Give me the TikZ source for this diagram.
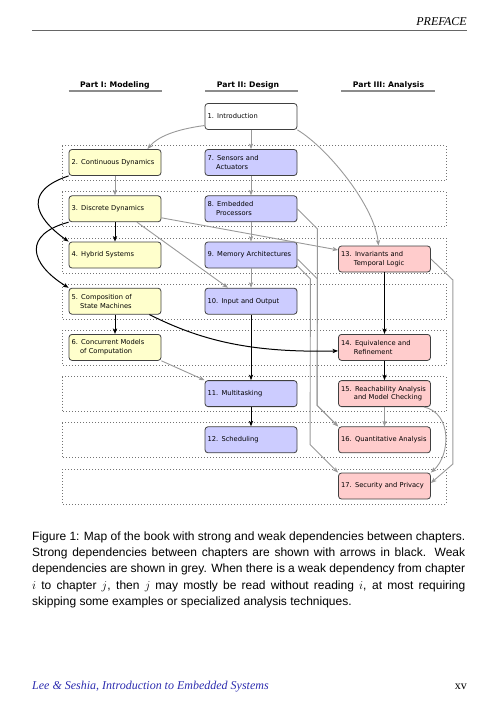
\documentclass[tikz,border=0pt]{standalone}
\usepackage{fontspec}
\usepackage{tikz}
\usetikzlibrary{arrows.meta}
\newfontfamily\diagfont{DejaVu Sans}
\newfontfamily\capfont{Liberation Sans}
\newfontfamily\pagefont{Liberation Serif}
\definecolor{modelfill}{RGB}{255,255,204}
\definecolor{designfill}{RGB}{204,204,255}
\definecolor{analysisfill}{RGB}{255,204,204}
\definecolor{footblue}{RGB}{45,45,175}
\tikzstyle{chap}=[rectangle, rounded corners=3pt, draw=black!75, line width=0.8pt, minimum width=92pt, minimum height=26pt, text width=87pt, inner xsep=2.5pt, align=left, font=\diagfont\fontsize{6.7}{8.7}\selectfont, execute at begin node=\hyphenpenalty10000\relax]
\tikzstyle{model}=[chap, fill=modelfill]
\tikzstyle{design}=[chap, fill=designfill]
\tikzstyle{analysis}=[chap, fill=analysisfill]
\tikzstyle{band}=[draw=black!55, line width=0.8pt, dash pattern=on 1pt off 2pt]
\tikzstyle{weakdep}=[->, draw=black!40, line width=0.9pt]
\tikzstyle{strongdep}=[->, draw=black, line width=1pt]
\tikzstyle{parthead}=[anchor=base west, inner sep=0pt, font=\diagfont\bfseries\fontsize{7.7}{9}\selectfont]
\tikzstyle{captext}=[anchor=base west, inner sep=0pt, font=\capfont\fontsize{12}{16}\selectfont]
\newcommand{\hang}[1]{\hphantom{#1\ }}

\begin{document}
\begin{tikzpicture}[x=1pt, y=-1pt, >={Stealth[length=5.5pt,width=4.2pt,inset=1.3pt]}]
\useasboundingbox (0,0) rectangle (499,706);
% running head
\node[anchor=base east, inner sep=0pt, font=\pagefont\itshape\fontsize{12}{14}\selectfont] (preface) at (467,26) {PREFACE};
\draw[black!60, line width=0.5pt] (32,30) -- (467,30);

% part headings
\node[parthead] (part1) at (80,87.5) {Part I: Modeling};
\node[parthead] (part2) at (216.7,87.5) {Part II: Design};
\node[parthead] (part3) at (352.7,87.5) {Part III: Analysis};
\draw[black!45, line width=1.5pt] (68.5,91) -- (162,91);
\draw[black!45, line width=1.5pt] (205,91) -- (298,91);
\draw[black!45, line width=1.5pt] (341,91) -- (435,91);

% dotted rows
\foreach \r in {162.5,208.8,255,301.2,347.4,393.6,439.8,486}
  \draw[band] (62,\r-17) rectangle (446,\r+18);

% chapters
\node[chap, fill=white] (c1) at (251,116.5) {1. Introduction};
\node[model] (c2) at (115,162.5) {2. Continuous Dynamics};
\node[model] (c3) at (115,208.8) {3. Discrete Dynamics};
\node[model] (c4) at (115,255) {4. Hybrid Systems};
\node[model] (c5) at (115,301.2) {5. Composition of\\\hang{5.}State Machines};
\node[model] (c6) at (115,347.4) {6. Concurrent Models\\\hang{6.}of Computation};
\node[design] (c7) at (251,162.5) {7. Sensors and\\\hang{7.}Actuators};
\node[design] (c8) at (251,208.8) {8. Embedded\\\hang{8.}Processors};
\node[design] (c9) at (251,255) {9. Memory Architectures};
\node[design] (c10) at (251,301.2) {10. Input and Output};
\node[design] (c11) at (251,393.6) {11. Multitasking};
\node[design] (c12) at (251,439.8) {12. Scheduling};
\node[analysis] (c13) at (384.5,259) {13. Invariants and\\\hang{13.}Temporal Logic};
\node[analysis] (c14) at (384.5,347.4) {14. Equivalence and\\\hang{14.}Refinement};
\node[analysis] (c15) at (384.5,393.6) {15. Reachability Analysis\\\hang{15.}and Model Checking};
\node[analysis] (c16) at (384.5,439.8) {16. Quantitative Analysis};
\node[analysis] (c17) at (384.5,486) {17. Security and Privacy};

% weak dependencies
\draw[weakdep] ([yshift=-9pt]c1.west) .. controls +(-30,4) and +(10,-12) .. ([xshift=-14pt]c2.north east);
\draw[weakdep] (c1.south) -- (c7.north);
\draw[weakdep] (c1.south east) .. controls +(30,18) and +(-4,-40) .. ([xshift=-6pt]c13.north);
\draw[weakdep] (c2.south) -- (c3.north);
\draw[weakdep] (c7.south) -- (c8.north);
\draw[weakdep] (c8.south) -- (c9.north);
\draw[weakdep] (c9.south) -- (c10.north);
\draw[weakdep] ([yshift=-9pt]c3.east) -- ([yshift=9pt]c13.west);
\draw[weakdep] ([xshift=22pt]c3.south) -- ([xshift=-23pt]c10.north);
\draw[weakdep] (c6.south east) -- (c11.north west);
\draw[weakdep] (c8.east) -- ++(20,20) -- ([xshift=-21pt,yshift=21pt]c16.north west) -- (c16.north west);
\draw[weakdep] ([yshift=-4pt]c9.east) -- ++(20,20) -- ([xshift=-21pt,yshift=21pt]c16.north west) -- (c16.north west);
\draw[weakdep] ([yshift=-11pt]c9.east) -- ++(13,13) -- ([xshift=-28pt,yshift=28pt]c17.north west) -- (c17.north west);
\draw[weakdep] (c13.east) -- ++(22,21) -- ([xshift=22pt,yshift=22pt]c17.east) -- ([yshift=3pt]c17.east);
\draw[weakdep] (c15.south) -- (c16.north);
\draw[weakdep] ([xshift=-7pt]c15.south east) .. controls +(28,6) and +(20,-18) .. (c17.north east);

% strong dependencies
\draw[strongdep] (c3.south) -- (c4.north);
\draw[strongdep] (c5.south) -- (c6.north);
\draw[strongdep] (c10.south) -- (c11.north);
\draw[strongdep] (c11.south) -- (c12.north);
\draw[strongdep] (c13.south) -- (c14.north);
\draw[strongdep] (c14.south) -- (c15.north);
\draw[strongdep] (c2.south west) .. controls +(-45,15) and +(-35,-25) .. (c4.north west);
\draw[strongdep] (c3.south west) .. controls +(-45,12) and +(-40,-25) .. (c5.north west);
\draw[strongdep] ([xshift=-12pt]c5.south east) .. controls +(50,25) and +(-90,2) .. ([yshift=-3.5pt]c14.west);

% caption
\node[captext] (cap1) at (32,540.7) {\makebox[433pt][s]{Figure 1: Map of the book with strong and weak dependencies between chapters.}};
\node[captext] (cap2) at (32,556.8) {\makebox[433pt][s]{Strong dependencies between chapters are shown with arrows in black. Weak}};
\node[captext] (cap3) at (32,572.9) {\makebox[433pt][s]{dependencies are shown in grey. When there is a weak dependency from chapter}};
\node[captext] (cap4) at (32,589) {\makebox[433pt][s]{$i$ to chapter $j$, then $j$ may mostly be read without reading $i$, at most requiring}};
\node[captext] (cap5) at (32,605.1) {skipping some examples or specialized analysis techniques.};

% running foot
\node[anchor=base west, inner sep=0pt, font=\pagefont\itshape\fontsize{12}{14}\selectfont, text=footblue] (foot) at (32,689) {Lee \& Seshia, Introduction to Embedded Systems};
\node[anchor=base east, inner sep=0pt, font=\pagefont\fontsize{12}{14}\selectfont] (pageno) at (467,689) {xv};
\end{tikzpicture}
\end{document}
